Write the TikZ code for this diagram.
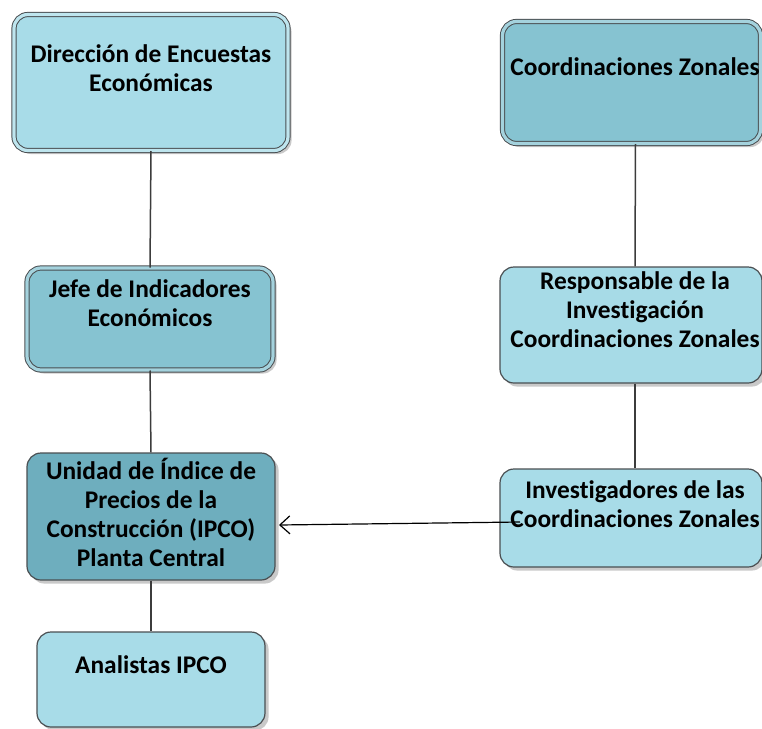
\documentclass[tikz,border=0pt]{standalone}
\usepackage{fontspec}
\setmainfont{Carlito}[Ligatures=NoCommon]
\usetikzlibrary{shadows,arrows.meta,calc}
\definecolor{bordc}{HTML}{4A4F52}
\definecolor{lightc}{HTML}{A8DCE8}
\definecolor{midc}{HTML}{86C3D1}
\definecolor{darkc}{HTML}{6EAEBE}
\definecolor{linec}{HTML}{3C3C3C}
\tikzset{
  box/.style={rectangle, rounded corners=7pt, draw=bordc, line width=0.6pt,
    drop shadow={shadow xshift=1.8pt, shadow yshift=-1.8pt, opacity=0.35, fill=black!60}},
  dbl/.style={double=#1!75!white, double distance=1.6pt, line width=0.5pt},
  txt/.style={align=center, font=\fontsize{12.7}{14.6}\selectfont\bfseries, text=black, inner sep=0pt},
  conn/.style={draw=linec, line width=0.75pt},
  arr/.style={draw=black, line width=0.6pt, -{Straight Barb[length=5pt,width=9pt,line width=0.6pt]}}
}
\begin{document}
\begin{tikzpicture}[x=0.5pt,y=-0.5pt]
\useasboundingbox (0,0) rectangle (762,729);
\fill[white] (0,0) rectangle (762,729);
% boxes
\node[box, dbl=lightc, fill=lightc, minimum width=137pt, minimum height=68pt] (dir) at (151,82.5) {};
\node[box, dbl=midc, fill=midc, minimum width=129pt, minimum height=61pt] (cz) at (631.5,82.5) {};
\node[box, dbl=midc, fill=midc, minimum width=123pt, minimum height=51pt] (jefe) at (150,319) {};
\node[box, fill=lightc!97!midc, minimum width=131pt, minimum height=58pt] (resp) at (631,325) {};
\node[box, fill=darkc, minimum width=124pt, minimum height=63.5pt] (uni) at (151,516.5) {};
\node[box, fill=lightc, minimum width=131pt, minimum height=49pt] (inv) at (631,518) {};
\node[box, fill=lightc, minimum width=114pt, minimum height=47.5pt] (ana) at (151,679.5) {};
% texts
\node[txt] (dir-t) at (151,68.5) {Dirección de Encuestas\\Económicas};
\node[txt] (cz-t) at (635,67) {Coordinaciones Zonales};
\node[txt] (jefe-t) at (150,303) {Jefe de Indicadores\\Económicos};
\node[txt] (resp-t) at (635,309.5) {Responsable de la\\Investigación\\Coordinaciones Zonales};
\node[txt] (uni-t) at (151,512.5) {Unidad de Índice de\\Precios de la\\Construcción (IPCO)\\Planta Central};
\node[txt] (inv-t) at (635,504) {Investigadores de las\\Coordinaciones Zonales};
\node[txt] (ana-t) at (151,665) {Analistas IPCO};
% connectors
\draw[conn] (dir.south) -- (jefe.north);
\draw[conn] (jefe.south) -- (uni.north);
\draw[conn] (uni.south) -- (ana.north);
\draw[conn] ([xshift=2pt]cz.south) -- ([xshift=2pt]resp.north);
\draw[conn] ([xshift=2pt]resp.south) -- ([xshift=2pt]inv.north);
\coordinate (arrS) at (520,522);
\coordinate (arrE) at (279,525);
\draw[arr] (arrS) -- (arrE);
\end{tikzpicture}
\end{document}
